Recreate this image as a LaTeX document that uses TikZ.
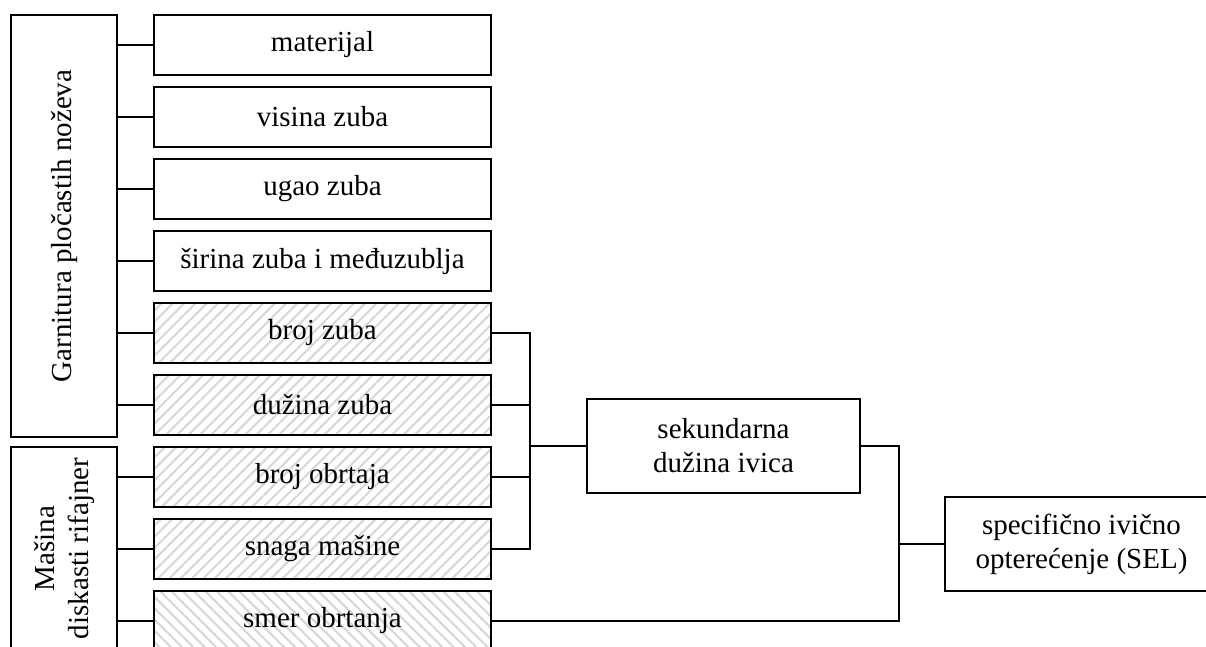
\documentclass[tikz,border=0pt]{standalone}
\usepackage{fontspec}
\setmainfont{Liberation Serif}
\usetikzlibrary{patterns.meta}
\begin{document}
\begin{tikzpicture}[x=1pt,y=-1pt,
  box/.style={draw, line width=2.6pt, inner sep=0pt, align=center, font=\fontsize{29}{34}\selectfont},
  param/.style={box, minimum width=337pt, minimum height=60pt},
  group/.style={box, rotate=90, minimum height=106pt},
  result/.style={box, minimum width=273pt, minimum height=94pt},
  hatch/.style={pattern={Lines[angle=45,distance=8pt,line width=2pt]}, pattern color=black!16},
  hatchb/.style={pattern={Lines[angle=-45,distance=8pt,line width=2pt]}, pattern color=black!16},
  conn/.style={line width=2pt}]
\useasboundingbox (0,0) rectangle (1206,646);

% group boxes
\node[group, minimum width=422pt] (garn) at (64,226) {Garnitura pločastih noževa};
\node[group, minimum width=203pt] (masina) at (64,548.5) {Mašina\\diskasti rifajner};

% parameter boxes
\node[param] (p1) at (322.5,45) {materijal};
\node[param] (p2) at (322.5,117) {visina zuba};
\node[param] (p3) at (322.5,189) {ugao zuba};
\node[param] (p4) at (322.5,261) {širina zuba i međuzublja};
\node[param, hatch] (p5) at (322.5,333) {broj zuba};
\node[param, hatch] (p6) at (322.5,405) {dužina zuba};
\node[param, hatch] (p7) at (322.5,477) {broj obrtaja};
\node[param, hatch] (p8) at (322.5,549) {snaga mašine};
\node[param, hatchb] (p9) at (322.5,621) {smer obrtanja};

% result boxes
\node[result] (sek) at (723.5,446) {sekundarna\\dužina ivica};
\node[result] (sel) at (1081.5,544) {specifično ivično\\opterećenje (SEL)};

% connectors group -> parameters
\foreach \p in {p1,p2,p3,p4,p5,p6}
  \draw[conn] (\p.west -| garn.south) -- (\p.west);
\foreach \p in {p7,p8,p9}
  \draw[conn] (\p.west -| masina.south) -- (\p.west);

% bus 1
\coordinate (bus1) at (530,446);
\draw[conn] (p5.east) -- (p5.east -| bus1) -- (p8.east -| bus1) -- (p8.east);
\draw[conn] (p6.east) -- (p6.east -| bus1);
\draw[conn] (p7.east) -- (p7.east -| bus1);
\draw[conn] (bus1 |- sek.west) -- (sek.west);

% bus 2
\coordinate (bus2) at (899,544);
\draw[conn] (sek.east) -- (sek.east -| bus2) -- (p9.east -| bus2) -- (p9.east);
\draw[conn] (bus2 |- sel.west) -- (sel.west);
\end{tikzpicture}
\end{document}
